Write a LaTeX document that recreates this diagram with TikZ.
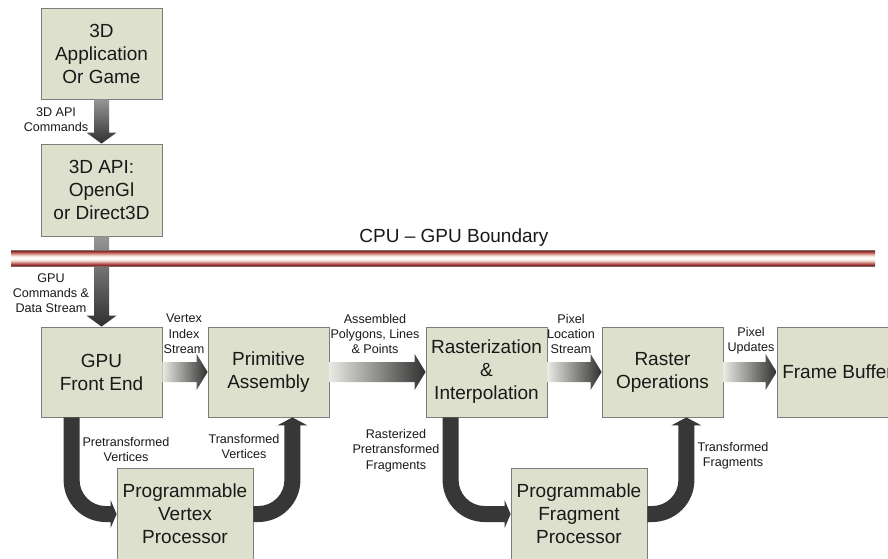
\documentclass[tikz,border=0pt]{standalone}
\usepackage{fontspec}
\setmainfont{Liberation Sans}
\usetikzlibrary{calc}
\definecolor{boxfill}{RGB}{221,224,204}
\definecolor{boxline}{RGB}{125,125,125}
\definecolor{txt}{RGB}{25,25,25}
\definecolor{arrdark}{RGB}{48,48,48}
\definecolor{arrlight}{RGB}{234,234,228}
\definecolor{arrmid}{RGB}{150,150,150}
\definecolor{curvfill}{RGB}{55,55,55}
\definecolor{barEdge}{RGB}{125,105,105}
\definecolor{barDark}{RGB}{120,30,30}
\definecolor{barRed}{RGB}{170,70,70}
\definecolor{barPink}{RGB}{215,150,140}
\definecolor{barLight}{RGB}{245,232,222}
\pgfdeclareverticalshading{cgbar}{100bp}{color(0bp)=(barEdge); color(25bp)=(barEdge); color(26.5bp)=(barDark); color(31bp)=(barRed); color(37bp)=(barPink); color(43bp)=(barLight); color(50bp)=(white); color(57bp)=(barLight); color(63bp)=(barPink); color(69bp)=(barRed); color(73.5bp)=(barDark); color(75bp)=(barEdge); color(100bp)=(barEdge)}
\tikzset{
  blk/.style={draw=boxline, line width=0.8pt, fill=boxfill, minimum width=121pt, minimum height=90pt, inner sep=0pt, align=center, font=\fontsize{19}{23}\selectfont, text=txt},
  wblk/.style={blk, minimum width=136pt, minimum height=92pt},
  lbl/.style={align=center, font=\fontsize{12.6}{15.3}\selectfont, text=txt, inner sep=0pt},
  hshade/.style={left color=arrlight, right color=arrdark},
  vshade/.style={top color=arrmid, bottom color=arrdark},
  curv/.style={fill=curvfill},
}
\newcommand\hconn[2]{%
  \shade[hshade] let \p1=(#1.east), \p2=(#2.west) in
    (\x1,\y1-10pt) -- (\x2-11pt,\y1-10pt) -- (\x2-11pt,\y1-18pt) -- (\x2,\y1)
    -- (\x2-11pt,\y1+18pt) -- (\x2-11pt,\y1+10pt) -- (\x1,\y1+10pt) -- cycle;}
\newcommand\vconn[2]{%
  \shade[vshade] let \p1=(#1.south), \p2=(#2.north) in
    (\x1-7.5pt,\y1) -- (\x1-7.5pt,\y2+11pt) -- (\x1-15pt,\y2+11pt) -- (\x1,\y2)
    -- (\x1+15pt,\y2+11pt) -- (\x1+7.5pt,\y2+11pt) -- (\x1+7.5pt,\y1) -- cycle;}
\newcommand\downconn[3]{%
  \fill[curv] let \p1=($(#1.south west)+(#2pt,0)$), \p2=(#3.west) in
    (\x1-8pt,\y1) -- (\x1-8pt,\y2+34pt) arc[start angle=180,end angle=270,radius=42pt]
    -- (\x2-6pt,\y2-8pt) -- (\x2-6pt,\y2-14pt) -- (\x2,\y2) -- (\x2-6pt,\y2+14pt) -- (\x2-6pt,\y2+8pt)
    -- (\x1+34pt,\y2+8pt) arc[start angle=270,end angle=180,radius=26pt] -- (\x1+8pt,\y1) -- cycle;}
\newcommand\upconn[3]{%
  \fill[curv] let \p1=(#1.east), \p2=($(#2.south east)+(#3pt,0)$) in
    (\x1,\y1-8pt) -- (\x2-34pt,\y1-8pt) arc[start angle=-90,end angle=0,radius=42pt]
    -- (\x2+8pt,\y2-8pt) -- (\x2+15pt,\y2-8pt) -- (\x2,\y2) -- (\x2-15pt,\y2-8pt) -- (\x2-8pt,\y2-8pt)
    -- (\x2-8pt,\y1+34pt) arc[start angle=0,end angle=-90,radius=26pt] -- (\x1,\y1+8pt) -- cycle;}
\begin{document}
\begin{tikzpicture}[x=1pt,y=-1pt]
\useasboundingbox (0,0) rectangle (888,558);
\clip (0,0) rectangle (888,558);
\fill[white] (0,0) rectangle (888,558);
% boxes
\node[blk, minimum height=91pt] (app) at (101.5,53.5) {3D\\Application\\Or Game};
\node[blk, minimum height=92pt] (api) at (101.5,190) {3D API:\\OpenGl\\or Direct3D};
\node[blk] (fe) at (101.5,372) {GPU\\Front End};
\node[blk] (pa) at (268.5,372) {Primitive\\Assembly};
\node[blk] (ri) at (486.5,372) {Rasterization\\\&\\Interpolation};
\node[blk] (ro) at (662.5,372) {Raster\\Operations};
\node[blk] (fb) at (837.5,372) {Frame Buffer};
\node[wblk] (vp) at (185,514) {Programmable\\Vertex\\Processor};
\node[wblk] (fp) at (579,514) {Programmable\\Fragment\\Processor};
% connectors
\vconn{app}{api}
\vconn{api}{fe}
\hconn{fe}{pa}
\hconn{pa}{ri}
\hconn{ri}{ro}
\hconn{ro}{fb}
\downconn{fe}{31}{vp}
\upconn{vp}{pa}{-37}
\downconn{ri}{25}{fp}
\upconn{fp}{ro}{-37}
% boundary bar
\shade[shading=cgbar] (11,250) rectangle (875,266);
\node[font=\fontsize{19}{23}\selectfont, text=txt, inner sep=0pt] (cgb) at (454,238) {CPU – GPU Boundary};
% labels
\node[lbl] (l1) at (56,119.5) {3D API\\Commands};
\node[lbl] (l2) at (51,293) {GPU\\Commands \&\\Data Stream};
\node[lbl] (l3) at (184,334) {Vertex\\Index\\Stream};
\node[lbl] (l4) at (375,334) {Assembled\\Polygons, Lines\\\& Points};
\node[lbl] (l5) at (571,334) {Pixel\\Location\\Stream};
\node[lbl] (l6) at (751,341) {Pixel\\Updates};
\node[lbl] (l7) at (126,449.5) {Pretransformed\\Vertices};
\node[lbl] (l8) at (244,446.5) {Transformed\\Vertices};
\node[lbl] (l9) at (396,450.5) {Rasterized\\Pretransformed\\Fragments};
\node[lbl] (l10) at (733,455.5) {Transformed\\Fragments};
\end{tikzpicture}
\end{document}
